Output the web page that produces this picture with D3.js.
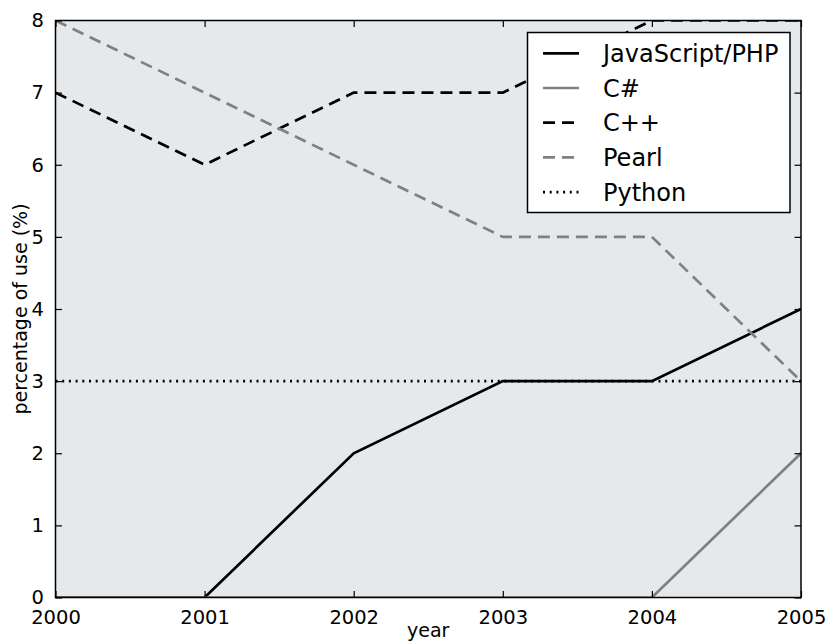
<!DOCTYPE html>
<html>
<head>
<meta charset="utf-8">
<script src="https://cdn.jsdelivr.net/npm/d3@7"></script>
<style>
  html, body { margin: 0; padding: 0; background: #ffffff; }
  svg { display: block; }
  text { font-family: "DejaVu Sans", sans-serif; fill: #000; }
</style>
</head>
<body>
<svg id="chart" width="829" height="643"></svg>
<script>
// Years on the x axis
const years = [2000, 2001, 2002, 2003, 2004, 2005];

// Share of use per language (%)
const javascriptPhp = [0, 0, 2, 3, 3, 4];
const csharp        = [0, 0, 0, 0, 0, 2];
const cpp           = [7, 6, 7, 7, 8, 8];
const pearl         = [8, 7, 6, 5, 5, 3];
const python        = [3, 3, 3, 3, 3, 3];

// Tick values
const xTicks = [2000, 2001, 2002, 2003, 2004, 2005];
const yTicks = [0, 1, 2, 3, 4, 5, 6, 7, 8];

const seriesNames = ["JavaScript/PHP", "C#", "C++", "Pearl", "Python"];
const seriesValues = [javascriptPhp, csharp, cpp, pearl, python];
const seriesStyle = [
  { color: "#000000", dash: null },
  { color: "#808080", dash: null },
  { color: "#000000", dash: "12,7" },
  { color: "#808080", dash: "12,7" },
  { color: "#000000", dash: "2,4.7" }
];

const svg = d3.select("#chart");
const margin = { left: 55.5, top: 20.5, right: 829 - 801, bottom: 643 - 597.5 };
const W = 829, H = 643;
const x0 = margin.left, x1 = W - margin.right;
const y0 = H - margin.bottom, y1 = margin.top;

const x = d3.scaleLinear().domain([2000, 2005]).range([x0, x1]);
const y = d3.scaleLinear().domain([0, 8]).range([y0, y1]);

// Axes background
svg.append("rect")
  .attr("x", x0).attr("y", y1)
  .attr("width", x1 - x0).attr("height", y0 - y1)
  .attr("fill", "#e5e9ec");

svg.append("defs").append("clipPath").attr("id", "plotClip")
  .append("rect")
  .attr("x", x0).attr("y", y1)
  .attr("width", x1 - x0).attr("height", y0 - y1);

const line = d3.line()
  .x((d, i) => x(years[i]))
  .y(d => y(d));

const plot = svg.append("g").attr("clip-path", "url(#plotClip)");
seriesValues.forEach((vals, k) => {
  plot.append("path")
    .datum(vals)
    .attr("d", line)
    .attr("fill", "none")
    .attr("stroke", seriesStyle[k].color)
    .attr("stroke-width", 2.7)
    .attr("stroke-dasharray", seriesStyle[k].dash);
});

// Ticks pointing inward on all four sides
const tickLen = 6.5;
const axisBottom = d3.axisBottom(x).tickValues(xTicks).tickFormat(d3.format("d"))
  .tickSizeInner(-tickLen).tickSizeOuter(0).tickPadding(tickLen + 6);
const axisTop = d3.axisTop(x).tickValues(xTicks).tickFormat("")
  .tickSizeInner(-tickLen).tickSizeOuter(0);
const axisLeft = d3.axisLeft(y).tickValues(yTicks).tickFormat(d3.format("d"))
  .tickSizeInner(-tickLen).tickSizeOuter(0).tickPadding(tickLen + 5);
const axisRight = d3.axisRight(y).tickValues(yTicks).tickFormat("")
  .tickSizeInner(-tickLen).tickSizeOuter(0);

function styleAxis(g) {
  g.select(".domain").remove();
  g.selectAll(".tick line").attr("stroke", "#000").attr("stroke-width", 1.2);
  g.selectAll(".tick text")
    .style("font-family", "'DejaVu Sans', sans-serif")
    .style("font-size", "19.5px")
    .attr("fill", "#000");
}

svg.append("g").attr("transform", `translate(0,${y0})`).call(axisBottom).call(styleAxis);
svg.append("g").attr("transform", `translate(0,${y1})`).call(axisTop).call(styleAxis);
svg.append("g").attr("transform", `translate(${x0},0)`).call(axisLeft).call(styleAxis);
svg.append("g").attr("transform", `translate(${x1},0)`).call(axisRight).call(styleAxis);

// Frame
svg.append("rect")
  .attr("x", x0).attr("y", y1)
  .attr("width", x1 - x0).attr("height", y0 - y1)
  .attr("fill", "none").attr("stroke", "#000").attr("stroke-width", 1.5);

// Axis titles
svg.append("text")
  .attr("x", (x0 + x1) / 2).attr("y", 637)
  .attr("text-anchor", "middle")
  .style("font-size", "19px")
  .text("year");

svg.append("text")
  .attr("transform", `translate(26.5,${(y0 + y1) / 2}) rotate(-90)`)
  .attr("text-anchor", "middle")
  .style("font-size", "19px")
  .text("percentage of use (%)");

// Legend
const legend = svg.append("g");
legend.append("rect")
  .attr("x", 527.5).attr("y", 32.5)
  .attr("width", 262.5).attr("height", 180)
  .attr("fill", "#ffffff").attr("stroke", "#000").attr("stroke-width", 1.5);

seriesNames.forEach((name, k) => {
  const ly = 53.3 + k * 34.7;
  legend.append("line")
    .attr("x1", 543).attr("x2", 579)
    .attr("y1", ly).attr("y2", ly)
    .attr("stroke", seriesStyle[k].color)
    .attr("stroke-width", 2.7)
    .attr("stroke-dasharray", seriesStyle[k].dash);
  legend.append("text")
    .attr("x", 603).attr("y", ly + 8.5)
    .style("font-size", "24px")
    .text(name);
});
</script>
</body>
</html>
